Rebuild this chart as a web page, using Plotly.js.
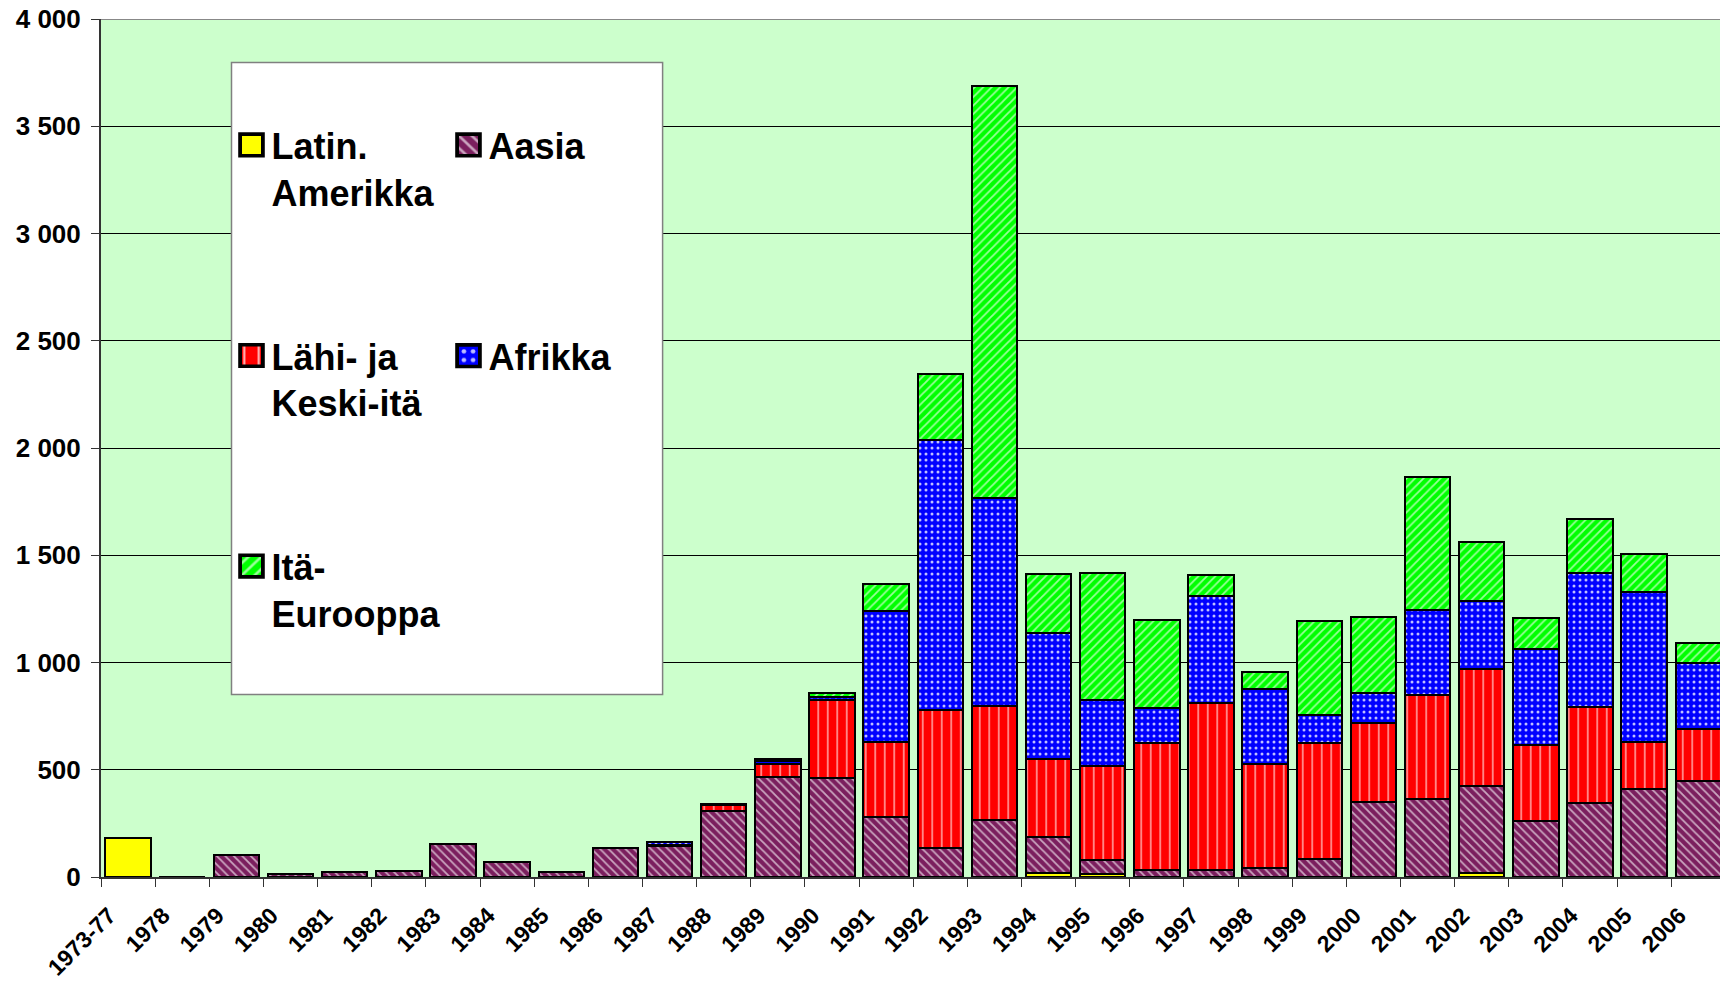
<!DOCTYPE html>
<html>
<head>
<meta charset="utf-8">
<script src="https://cdn.plot.ly/plotly-3.0.1.min.js"></script>
<style>html,body{margin:0;padding:0;background:#fff;}#chart{width:1720px;height:981px;}</style>
</head>
<body>
<div id="chart"></div>
<script>
var years = ['1973-77','1978','1979','1980','1981','1982','1983','1984','1985','1986','1987','1988','1989','1990','1991','1992','1993','1994','1995','1996','1997','1998','1999','2000','2001','2002','2003','2004','2005','2006'];

var latinAmerikka = [182,0,0,0,0,0,0,0,0,0,0,0,0,0,0,0,0,20,12,0,0,0,0,0,0,18,0,0,0,0];
var aasia         = [0,0,102,15,22,30,155,68,24,137,143,310,467,463,280,136,268,168,69,34,34,44,84,349,364,405,259,346,408,447];
var lahiKeskiIta  = [0,0,0,0,0,0,0,0,0,0,5,26,58,363,350,643,527,363,438,592,779,482,542,367,483,545,358,448,221,241];
var afrikka       = [0,0,0,0,0,0,0,0,0,0,15,4,18,14,610,1257,970,587,308,164,495,352,131,144,396,321,445,623,701,309];
var itaEurooppa   = [0,0,0,0,0,0,0,0,0,0,0,0,5,16,127,311,1924,274,592,406,100,80,436,352,620,271,144,250,175,96];

var seriesNames = ['Latin.<br>Amerikka','Aasia','Lähi- ja<br>Keski-itä','Afrikka','Itä-<br>Eurooppa'];

var FONT = 'Liberation Sans, Arial, Helvetica, sans-serif';
var outline = {color:'#000000', width:2};

function bar(name, vals, color, pattern, legendId, group){
  var m = {color: color, line: outline};
  if(pattern) m.pattern = pattern;
  return {type:'bar', name:name, x:years, y:vals, marker:m, legend:legendId, legendgroup:group, hoverinfo:'x+y+name'};
}

var data = [
  bar(seriesNames[0], latinAmerikka, '#FFFF00', null, 'legend', 'g1'),
  bar(seriesNames[1], aasia, '#7B1F5E', {shape:'\\', bgcolor:'#7B1F5E', fgcolor:'#FFFFFF', fgopacity:0.6, size:6, solidity:0.3}, 'legend2', 'g2'),
  bar(seriesNames[2], lahiKeskiIta, '#FF0000', {shape:'|', bgcolor:'#FF0000', fgcolor:'#FFFFFF', fgopacity:0.75, size:9.5, solidity:0.14}, 'legend', 'g3'),
  bar(seriesNames[3], afrikka, '#0000FF', {shape:'.', bgcolor:'#0000FF', fgcolor:'#FFFFFF', fgopacity:0.75, size:6, solidity:0.2}, 'legend2', 'g4'),
  bar(seriesNames[4], itaEurooppa, '#00FF00', {shape:'/', bgcolor:'#00FF00', fgcolor:'#FFFFFF', fgopacity:0.6, size:6, solidity:0.3}, 'legend', 'g5')
];

var legendFont = {family:FONT, size:36, color:'#000000', weight:700};
var PL = 101, PW = 1619, PB = 877, PH = 858;
function px2x(px){ return (px - PL) / PW; }
function py2y(py){ return (PB - py) / PH; }

var layout = {
  width:1720, height:981,
  margin:{l:101, r:0, t:19, b:104, autoexpand:false},
  paper_bgcolor:'#FFFFFF',
  plot_bgcolor:'#CCFFCC',
  barmode:'stack',
  bargap:0.16,
  separators:', ',
  font:{family:FONT, color:'#000000'},
  xaxis:{
    type:'category', range:[-0.5, 29.4], tickson:'boundaries',
    ticks:'outside', ticklen:8, tickwidth:1, tickcolor:'#333333',
    showline:true, linecolor:'#333333', linewidth:2,
    showgrid:false, zeroline:false, tickangle:-45, automargin:false,
    ticklabelshift:-19, ticklabelstandoff:14,
    tickfont:{family:FONT, size:23, color:'#000000', weight:700}
  },
  yaxis:{
    range:[0,4000], tick0:0, dtick:500, separatethousands:true,
    showgrid:true, gridcolor:'#000000', gridwidth:1, automargin:false,
    ticks:'outside', ticklen:8, tickwidth:1, tickcolor:'#333333',
    showline:true, linecolor:'#333333', linewidth:2, zeroline:false,
    ticklabelstandoff:5,
    tickfont:{family:FONT, size:26, color:'#000000', weight:700}
  },
  legend:{
    xref:'paper', yref:'paper', x:px2x(231.5), y:py2y(115), xanchor:'left', yanchor:'top',
    bgcolor:'rgba(0,0,0,0)', borderwidth:0, font:legendFont,
    traceorder:'grouped', tracegroupgap:114, valign:'top'
  },
  legend2:{
    xref:'paper', yref:'paper', x:px2x(448.5), y:py2y(115), xanchor:'left', yanchor:'top',
    bgcolor:'rgba(0,0,0,0)', borderwidth:0, font:legendFont,
    traceorder:'grouped', tracegroupgap:161, valign:'top'
  },
  shapes:[
    {type:'rect', xref:'paper', yref:'paper', x0:px2x(231.5), x1:px2x(662.6), y0:py2y(694.4), y1:py2y(62.5),
     fillcolor:'#FFFFFF', line:{color:'#808080', width:1.5}, layer:'above'},
    {type:'line', xref:'paper', yref:'y', x0:0, x1:1, y0:4000, y1:4000, line:{color:'#888888', width:2}, layer:'above'}
  ],
  showlegend:true
};

Plotly.newPlot('chart', data, layout, {displayModeBar:false, staticPlot:true}).then(function(){
  document.querySelectorAll('g.legendpoints path').forEach(function(p){
    var t = p.getAttribute('transform') || '';
    p.setAttribute('transform', t + ' scale(1.9,1.8)');
  });
});
</script>
</body>
</html>
